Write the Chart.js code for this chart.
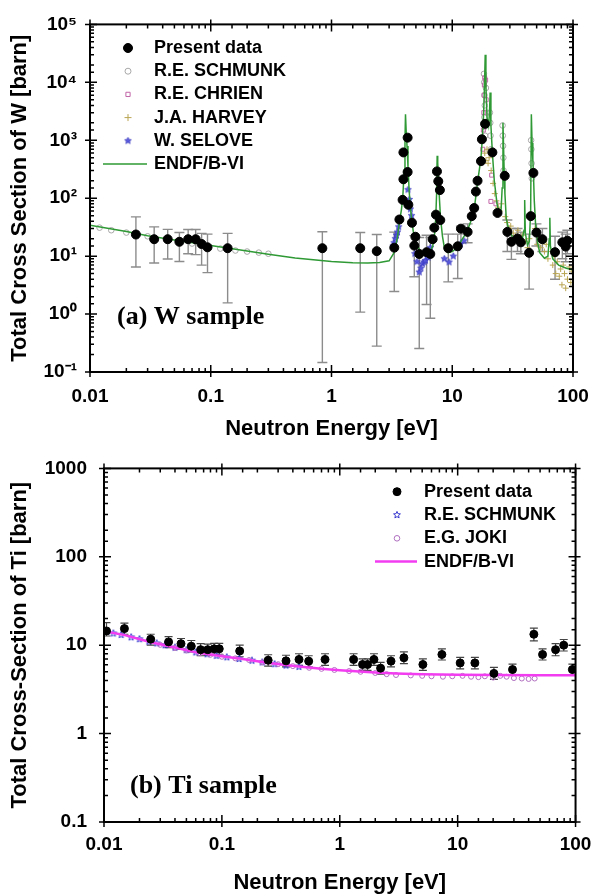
<!DOCTYPE html>
<html><head><meta charset="utf-8">
<script src="https://cdn.jsdelivr.net/npm/chart.js@4.4.1/dist/chart.umd.min.js"></script>
<style>
html,body{margin:0;padding:0;background:#fff;}
#wrapA{position:absolute;left:0;top:0;width:603px;height:440px;}
#wrapB{position:absolute;left:0;top:440px;width:603px;height:454px;}
</style></head><body>
<div id="wrapA"><canvas id="cA"></canvas></div>
<div id="wrapB"><canvas id="cB"></canvas></div>
<script>
// ---------- Tick labels ----------
const xTickLabels = ['0.01','0.1','1','10','100'];          // exponents -2..2
const wYTickLabels = ['10\u207B\u00B9','10\u2070','10\u00B9','10\u00B2','10\u00B3','10\u2074','10\u2075']; // -1..5
const tiYTickLabels = ['0.1','1','10','100','1000'];        // -1..3

// ---------- (a) W sample ----------
const wPresentE  = [0.024,0.034,0.044,0.055,0.065,0.075,0.084,0.094,0.138,0.84,1.73,2.37,3.31,3.65,3.88,3.94,3.94,4.27,4.27,4.33,4.64,4.85,4.95,5.33,6.13,6.58,6.88,7.1,7.33,7.47,7.66,7.9,7.96,9.27,11.1,11.8,13.4,14.5,15.2,15.7,16.2,17.3,17.6,18.7,21.5,23.7,27.2,28.6,30.9,34.7,37,43.3,44.7,47,49.8,55.8,71,81.6,87,89.8];
const wPresentXS = [23.6,19.6,19.6,17.7,19.6,19.6,16.2,14.2,13.7,13.7,13.7,12.2,14,42.9,93.6,212,617,283,1110,77,37.7,15.2,21.6,10.9,11.7,10.9,19.6,31,52,290,196,138,41.9,13.7,14.8,29.8,26.2,49,67.7,130,200,436,1040,1920,617,55.7,243,26.2,17.7,20.2,17.3,11.4,49,273,25.5,19.6,11.7,17.3,14.6,18.5];
const wPresentHi = [47.6,32,29,25.6,28.9,28.9,24.7,24,24.7,26.3,25.6,23.6,26,null,null,null,null,null,null,null,null,22.6,null,21,23,21,null,null,null,null,null,null,null,24,24,33,36,null,null,null,null,null,null,null,null,null,null,42,30,30,26,24,null,null,36,30,22,26,24,28];
const wPresentLo = [6.5,7.6,8.9,8.1,11,10.6,7,5.2,1.56,0.146,1.08,0.28,2.45,null,null,null,null,null,null,null,null,4.4,null,0.255,1.46,0.845,null,null,null,null,null,null,null,3.6,4.1,17,17,null,null,null,null,null,null,null,null,null,null,12,8.8,12,11,2.7,null,null,15,12,4.0,9,8,11];

const wSchmunkE  = [0.012,0.015,0.02,0.03,0.045,0.055,0.07,0.09,0.12,0.16,0.2,0.25,0.3,18.3,18.4,18.5,18.6,18.45,18.55,18.7,19.0,19.2,20.5,20.65,20.75,20.9,26.1,26.2,26.35,26.5,26.6,45.0,45.2,45.4,45.6];
const wSchmunkXS = [31,28,25.5,22,19,17.5,16.5,15,13.5,12.5,12,11.5,11,14000,10000,6000,4000,2500,1700,1200,8000,3000,3000,2000,1200,700,1800,1200,800,500,300,1000,700,400,220];

const wChrienE  = [17.9,18.1,18.25,18.35,18.45,18.55,18.9,19.1,19.4,20.9,21.2,23.0];
const wChrienXS = [700,1500,3000,6000,9000,12000,11000,5000,2000,88,250,80];

const wHarveyE  = [18.6,19.0,19.4,19.8,20.2,21.0,21.8,22.5,23.2,24.0,24.8,25.5,27.5,28.5,29.5,30.5,32,33.5,35,36.5,38,40.5,42,43.5,48.5,50.5,52,54,56,58,60,62,66,68,70,72,74,77,79,81,83,85,87,90,93,96,98];
const wHarveyXS = [600,450,700,400,500,300,180,120,90,70,60,80,48,38,30,33,25,22,28,20,23,18,14,20,30,16,22,14,18,12,16,9,12,7,10,5,8,4.5,6,3.2,7,5,2.8,4,6.5,3.5,5.5];

const wSeloveE  = [3.25,3.3,3.38,3.45,3.52,3.6,4.3,4.4,4.5,4.6,4.9,5.1,5.33,5.5,5.67,5.85,6.0,6.3,6.6,7.6,8.6,9.4,10.2,11.1,11.7,12.5];
const wSeloveXS = [15,17,20,23,26,32,140,95,65,50,11,8,5.3,6.2,7.4,7.9,8.4,9.5,14,43,9.0,7.9,10,14,16.2,18.4];

const wEndfE  = [0.01,0.02,0.03,0.05,0.1,0.2,0.3,0.5,1.0,1.5,2.0,2.5,3.0,3.3,3.5,3.65,3.8,3.9,4.0,4.06,4.1,4.15,4.22,4.3,4.4,4.55,4.75,5.0,5.4,6.0,6.5,6.9,7.15,7.3,7.42,7.5,7.58,7.7,7.85,8.0,8.3,8.6,9.2,10,11,12,13,14,14.5,15.2,15.7,16.2,16.8,17.3,17.7,18.2,18.5,18.75,19.0,19.4,20.0,20.35,20.6,20.9,21.5,22.3,23.5,24.5,25.3,25.9,26.3,26.9,27.3,28,29,31,34,37.5,39.3,39.8,40.3,42,43.5,44.6,45.2,45.8,46.5,47,47.8,49,51,53,58,62,63.6,64.3,65,68,76,88,100];
const wEndfXS = [34,26.5,22.5,19,15.3,12.3,10.8,9.3,8.1,7.7,7.6,7.8,8.3,11.5,20,38,65,110,300,1000,2800,1500,800,350,130,55,27,17,12.5,10.8,11.5,15,25,45,120,540,400,200,90,45,22,14,11.5,12,14,19,25,36,45,65,110,190,320,500,1000,3000,9000,30000,9000,2500,1800,3000,6700,1800,600,200,80,55,55,150,2000,300,120,45,32,23,19,17,28,93,25,15.5,18,60,2800,900,450,280,90,35,17,11.5,9.2,10,20,46,15,9,7,6.2,5.8];

// ---------- (b) Ti sample ----------
const tiPresentE  = [0.0105,0.0149,0.0249,0.0353,0.045,0.055,0.066,0.0758,0.086,0.095,0.1416,0.247,0.35,0.451,0.545,0.75,1.31,1.56,1.72,1.95,2.22,2.72,3.5,5.07,7.35,10.5,14,20.3,29.2,44.3,52.5,67.7,79.4,94];
const tiPresentXS = [14.5,15.4,11.7,10.9,10.4,9.75,8.9,8.9,9.1,9.1,8.6,6.76,6.65,6.9,6.6,6.9,6.9,6.05,6.05,6.9,5.5,6.6,7.2,6.05,7.85,6.3,6.3,4.8,5.3,13.3,7.85,8.9,10,5.3];
const tiPresentHi = [18,17.8,13.3,12.5,11.9,11.3,10.4,10.3,10.5,10.5,10,7.8,7.7,8,7.6,8,8,7,7,8,6.4,7.6,8.4,7,9.1,7.3,7.3,5.6,6.1,15.6,9.1,10.4,11.6,6.1];
const tiPresentLo = [12.7,13.3,10,9.4,9,8.4,7.6,7.7,7.9,7.9,7.4,5.8,5.7,5.9,5.7,5.9,5.9,5.2,5.2,5.9,4.7,5.7,6.2,5.2,6.8,5.4,5.4,4.1,4.6,11.2,6.8,7.6,8.6,4.6];

const tiSchmunkE  = [0.0105,0.012,0.014,0.017,0.02,0.024,0.028,0.033,0.04,0.05,0.06,0.075,0.09,0.11,0.14,0.18,0.22,0.28,0.35,0.45];
const tiSchmunkXS = [14.2,13.6,13.1,12.3,11.7,11,10.5,10,9.4,8.8,8.3,7.9,7.6,7.3,7.0,6.7,6.4,6.1,5.9,5.7];

const tiJokiE  = [0.03,0.04,0.05,0.065,0.08,0.1,0.13,0.17,0.22,0.3,0.4,0.55,0.7,0.9,1.2,1.5,2,2.5,3,4,5,6,7.5,9,11,13,15,17,20,23,26,30,35,40,45];
const tiJokiXS = [10.1,9.3,8.7,8.1,7.8,7.4,7.1,6.8,6.4,6.1,5.8,5.55,5.4,5.25,5.1,5.0,4.85,4.7,4.6,4.55,4.5,4.45,4.4,4.45,4.5,4.4,4.35,4.45,4.3,4.5,4.4,4.25,4.2,4.15,4.2];

const tiEndfE  = [0.01,0.015,0.025,0.04,0.06,0.1,0.15,0.25,0.45,0.7,1,2,3,5,10,20,50,100];
const tiEndfXS = [14.4,13.0,10.8,9.4,8.3,7.5,7.0,6.3,5.75,5.4,5.2,4.9,4.78,4.68,4.62,4.6,4.58,4.58];

// ---------- helpers ----------
const pts = (E, XS) => E.map((e, i) => ({x: e, y: XS[i]}));
const FONT = '"Liberation Sans", Arial, Helvetica, sans-serif';
const decadeLabel = (labels, minExp) => (v) => {
  const e = Math.log10(v), r = Math.round(e);
  if (Math.abs(e - r) > 1e-6) return '';
  return labels[r - minExp] ?? '';
};
function starImg(r, fill, stroke, lw) {
  const s = Math.ceil(2 * r + 2 * lw + 2);
  const c = document.createElement('canvas'); c.width = c.height = s;
  const g = c.getContext('2d'); g.beginPath();
  for (let k = 0; k < 10; k++) {
    const a = -Math.PI / 2 + k * Math.PI / 5, rr = (k % 2) ? r * 0.45 : r;
    g.lineTo(s / 2 + rr * Math.cos(a), s / 2 + rr * Math.sin(a));
  }
  g.closePath();
  if (fill) { g.fillStyle = fill; g.fill(); }
  if (stroke) { g.strokeStyle = stroke; g.lineWidth = lw; g.stroke(); }
  return c;
}

// ---------- plugins ----------
const errPlugin = {
  id: 'errBars',
  beforeDatasetsDraw(chart, args, o) {
    const {ctx, chartArea: a, scales: {x, y}} = chart;
    ctx.save();
    ctx.beginPath(); ctx.rect(a.left, a.top, a.right - a.left, a.bottom - a.top); ctx.clip();
    ctx.strokeStyle = o.color; ctx.lineWidth = o.width;
    chart.data.datasets.forEach(ds => {
      if (!ds.errHi) return;
      ds.data.forEach((p, i) => {
        const hi = ds.errHi[i], lo = ds.errLo[i];
        if (hi == null || lo == null) return;
        const px = x.getPixelForValue(p.x), y1 = y.getPixelForValue(hi), y2 = y.getPixelForValue(lo);
        ctx.beginPath();
        ctx.moveTo(px, y1); ctx.lineTo(px, y2);
        ctx.moveTo(px - o.cap, y1); ctx.lineTo(px + o.cap, y1);
        ctx.moveTo(px - o.cap, y2); ctx.lineTo(px + o.cap, y2);
        ctx.stroke();
      });
    });
    ctx.restore();
  }
};
const framePlugin = {
  id: 'frame',
  afterDatasetsDraw(chart) {
    const {ctx, chartArea: a, scales: {x, y}} = chart;
    const isMajor = v => Math.abs(Math.log10(v) - Math.round(Math.log10(v))) < 1e-6;
    ctx.save();
    ctx.strokeStyle = '#000';
    ctx.lineWidth = 1.5;
    x.ticks.forEach(t => {
      const p = x.getPixelForValue(t.value);
      if (p < a.left - 0.5 || p > a.right + 0.5) return;
      const m = isMajor(t.value), inL = m ? 7 : 4, outL = m ? 5 : 0;
      ctx.beginPath();
      ctx.moveTo(p, a.bottom + outL); ctx.lineTo(p, a.bottom - inL);
      ctx.moveTo(p, a.top - outL); ctx.lineTo(p, a.top + inL);
      ctx.stroke();
    });
    y.ticks.forEach(t => {
      const p = y.getPixelForValue(t.value);
      if (p < a.top - 0.5 || p > a.bottom + 0.5) return;
      const m = isMajor(t.value), inL = m ? 7 : 4, outL = m ? 5 : 0;
      ctx.beginPath();
      ctx.moveTo(a.left - outL, p); ctx.lineTo(a.left + inL, p);
      ctx.moveTo(a.right + outL, p); ctx.lineTo(a.right - inL, p);
      ctx.stroke();
    });
    ctx.lineWidth = 2;
    ctx.strokeRect(a.left, a.top, a.right - a.left, a.bottom - a.top);
    ctx.restore();
  }
};
const legendPlugin = {
  id: 'sideLegend',
  afterDraw(chart, args, o) {
    const ctx = chart.ctx;
    ctx.save();
    ctx.font = 'bold 18px ' + FONT;
    ctx.textBaseline = 'middle';
    o.items.forEach((label, i) => {
      const ds = chart.data.datasets.find(d => d.label === label);
      const yy = o.y0 + i * o.dy;
      if (ds.showLine) {
        ctx.strokeStyle = ds.borderColor; ctx.lineWidth = ds.borderWidth;
        ctx.beginPath(); ctx.moveTo(o.lineX0, yy); ctx.lineTo(o.lineX1, yy); ctx.stroke();
      } else {
        ctx.fillStyle = ds.backgroundColor; ctx.strokeStyle = ds.borderColor;
        ctx.lineWidth = ds.borderWidth;
        Chart.helpers.drawPoint(ctx, {pointStyle: ds.pointStyle, radius: ds.legendRadius || ds.pointRadius, rotation: 0, borderWidth: ds.borderWidth}, o.markerX, yy);
      }
      ctx.fillStyle = '#000';
      ctx.fillText(label, o.textX, yy);
    });
    ctx.restore();
  }
};
const notePlugin = {
  id: 'note',
  afterDraw(chart, args, o) {
    const ctx = chart.ctx;
    ctx.save();
    ctx.font = 'bold 26px "Liberation Serif", "Times New Roman", serif';
    ctx.fillStyle = '#000'; ctx.textBaseline = 'alphabetic';
    ctx.fillText(o.text, o.x, o.y);
    ctx.restore();
  }
};

const tickFont = {family: FONT, size: 19, weight: 'bold'};
const titleFont = {family: FONT, size: 22, weight: 'bold', lineHeight: 1};

function axes(cfg) {
  return {
    x: {
      type: 'logarithmic', min: 0.01, max: 100,
      grid: {display: false, drawTicks: false}, border: {display: false},
      ticks: {autoSkip: false, maxRotation: 0, minRotation: 0, padding: cfg.xPad, color: '#000', font: tickFont,
              callback: decadeLabel(xTickLabels, -2)},
      title: {display: true, text: 'Neutron Energy [eV]', color: '#000', font: titleFont, padding: {top: 0, bottom: 0}},
      afterFit: s => { s.height = cfg.xH; }
    },
    y: {
      type: 'logarithmic', min: cfg.yMin, max: cfg.yMax,
      grid: {display: false, drawTicks: false}, border: {display: false},
      ticks: {autoSkip: false, padding: cfg.yPad, color: '#000', font: tickFont,
              callback: decadeLabel(cfg.yLabels, cfg.yMinExp)},
      title: {display: true, text: cfg.yTitle, color: '#000', font: titleFont, padding: {top: 9, bottom: 0}},
      afterFit: s => { s.width = cfg.yW; }
    }
  };
}

// ---------- Chart (a) ----------
const seloveStar = starImg(3.5, '#5b5be0', '#3a3ac0', 0.8);
new Chart(document.getElementById('cA'), {
  type: 'scatter',
  data: {datasets: [
    {label: 'Present data', data: pts(wPresentE, wPresentXS), errHi: wPresentHi, errLo: wPresentLo,
     pointStyle: 'circle', pointRadius: 4.5, legendRadius: 4.5, backgroundColor: '#000', borderColor: '#000', borderWidth: 1},
    {label: 'ENDF/B-VI', data: pts(wEndfE, wEndfXS), showLine: true, pointRadius: 0, borderColor: '#2f9a35', borderWidth: 1.5, tension: 0},
    {label: 'W. SELOVE', data: pts(wSeloveE, wSeloveXS), pointStyle: seloveStar, pointRadius: 3, backgroundColor: '#5b5be0', borderColor: '#5b5be0', borderWidth: 1},
    {label: 'J.A. HARVEY', data: pts(wHarveyE, wHarveyXS), pointStyle: 'cross', pointRadius: 3, legendRadius: 3.5, backgroundColor: 'rgba(0,0,0,0)', borderColor: '#b9a552', borderWidth: 1},
    {label: 'R.E. CHRIEN', data: pts(wChrienE, wChrienXS), pointStyle: 'rect', pointRadius: 2.8, legendRadius: 3, backgroundColor: 'rgba(0,0,0,0)', borderColor: '#c266a8', borderWidth: 1},
    {label: 'R.E. SCHMUNK', data: pts(wSchmunkE, wSchmunkXS), pointStyle: 'circle', pointRadius: 2.8, legendRadius: 3, backgroundColor: 'rgba(0,0,0,0)', borderColor: '#a8a8a8', borderWidth: 1}
  ]},
  options: {
    responsive: true, maintainAspectRatio: false, animation: false,
    layout: {padding: {top: 18, right: 30, bottom: 0, left: 0}},
    plugins: {
      legend: {display: false}, tooltip: {enabled: false},
      errBars: {color: '#8c8c8c', width: 1.4, cap: 5},
      sideLegend: {items: ['Present data','R.E. SCHMUNK','R.E. CHRIEN','J.A. HARVEY','W. SELOVE','ENDF/B-VI'],
                   markerX: 128, textX: 154, y0: 48, dy: 23.2, lineX0: 103, lineX1: 147},
      note: {text: '(a) W sample', x: 117, y: 324}
    },
    scales: axes({xPad: 13, xH: 68, yMin: 0.1, yMax: 1e5, yPad: 13, yW: 90, yLabels: wYTickLabels, yMinExp: -1,
                  yTitle: 'Total Cross Section of W [barn]'})
  },
  plugins: [errPlugin, framePlugin, legendPlugin, notePlugin]
});

// ---------- Chart (b) ----------
const tiStar = starImg(3.6, null, '#3838d0', 1);
new Chart(document.getElementById('cB'), {
  type: 'scatter',
  data: {datasets: [
    {label: 'Present data', data: pts(tiPresentE, tiPresentXS), errHi: tiPresentHi, errLo: tiPresentLo,
     pointStyle: 'circle', pointRadius: 4, legendRadius: 4, backgroundColor: '#000', borderColor: '#000', borderWidth: 1},
    {label: 'ENDF/B-VI', data: pts(tiEndfE, tiEndfXS), showLine: true, pointRadius: 0, borderColor: '#f23cf0', borderWidth: 2.5, tension: 0},
    {label: 'E.G. JOKI', data: pts(tiJokiE, tiJokiXS), pointStyle: 'circle', pointRadius: 2.5, legendRadius: 2.8, backgroundColor: 'rgba(0,0,0,0)', borderColor: '#b070c0', borderWidth: 1},
    {label: 'R.E. SCHMUNK', data: pts(tiSchmunkE, tiSchmunkXS), pointStyle: tiStar, pointRadius: 3.5, backgroundColor: 'rgba(0,0,0,0)', borderColor: '#3838d0', borderWidth: 1}
  ]},
  options: {
    responsive: true, maintainAspectRatio: false, animation: false,
    layout: {padding: {top: 28, right: 17, bottom: 0, left: 0}},
    plugins: {
      legend: {display: false}, tooltip: {enabled: false},
      errBars: {color: '#444', width: 1.2, cap: 4},
      sideLegend: {items: ['Present data','R.E. SCHMUNK','E.G. JOKI','ENDF/B-VI'],
                   markerX: 397, textX: 424, y0: 51.7, dy: 23.3, lineX0: 375, lineX1: 417},
      note: {text: '(b) Ti sample', x: 130, y: 353}
    },
    scales: axes({xPad: 11.6, xH: 72, yMin: 0.1, yMax: 1000, yPad: 17, yW: 104, yLabels: tiYTickLabels, yMinExp: -1,
                  yTitle: 'Total Cross-Section of Ti [barn]'})
  },
  plugins: [errPlugin, framePlugin, legendPlugin, notePlugin]
});
</script>
</body></html>
